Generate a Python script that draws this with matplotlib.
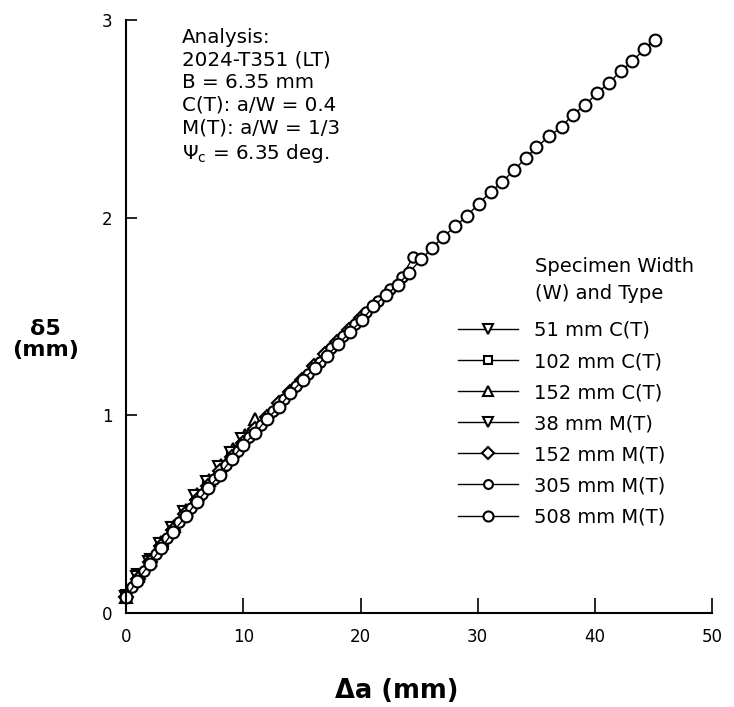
import matplotlib
matplotlib.use('Agg')
import matplotlib.pyplot as plt

# Δa (mm) and δ5 (mm) for each specimen
da_51ct = [0.0, 1.0, 2.1, 3.0, 4.0, 5.0]
d5_51ct = [0.08, 0.19, 0.27, 0.35, 0.43, 0.51]

da_102ct = [0.0, 1.1, 2.0, 3.1, 4.1, 5.0, 6.1, 7.0, 8.1, 9.0]
d5_102ct = [0.09, 0.18, 0.26, 0.35, 0.43, 0.50, 0.58, 0.65, 0.73, 0.80]

da_152ct = [0.0, 1.0, 2.0, 3.0, 4.1, 5.1, 6.0, 7.1, 8.1, 9.1, 10.1, 11.0]
d5_152ct = [0.08, 0.19, 0.27, 0.36, 0.44, 0.52, 0.60, 0.67, 0.75, 0.83, 0.90, 0.98]

da_38mt = [0.0, 0.9, 1.9, 2.9, 3.9, 4.9, 5.9, 6.9, 7.9, 8.9, 9.9]
d5_38mt = [0.08, 0.18, 0.26, 0.35, 0.43, 0.51, 0.59, 0.66, 0.74, 0.81, 0.88]

da_152mt = [0.0, 1.0, 2.0, 3.0, 4.0, 5.0, 6.0, 7.0, 8.0, 9.0, 10.0, 11.0, 12.0,
            13.0, 14.0, 15.0, 16.0, 17.0, 18.0, 19.0, 20.0]
d5_152mt = [0.08, 0.17, 0.26, 0.34, 0.42, 0.50, 0.57, 0.64, 0.72, 0.79, 0.86, 0.93, 0.99,
            1.06, 1.12, 1.18, 1.25, 1.31, 1.37, 1.43, 1.49]

da_305mt = [0.5, 1.5, 2.5, 3.5, 4.5, 5.5, 6.5, 7.5, 8.5, 9.5, 10.5, 11.5, 12.5,
            13.5, 14.5, 15.5, 16.5, 17.5, 18.5, 19.5, 20.5, 21.5, 22.5, 23.5, 24.5]
d5_305mt = [0.13, 0.21, 0.30, 0.38, 0.46, 0.53, 0.60, 0.68, 0.75, 0.82, 0.89, 0.95, 1.02,
            1.08, 1.15, 1.21, 1.27, 1.34, 1.40, 1.46, 1.52, 1.58, 1.64, 1.70, 1.80]

da_508mt = [0.0, 0.9, 2.0, 3.0, 4.0, 5.1, 6.0, 7.0, 8.0, 9.0, 10.0, 11.0, 12.0, 13.0,
            14.0, 15.1, 16.1, 17.1, 18.1, 19.1, 20.1, 21.1, 22.2, 23.2, 24.1, 25.2,
            26.1, 27.0, 28.1, 29.1, 30.1, 31.1, 32.1, 33.1, 34.1, 35.0, 36.1, 37.2,
            38.1, 39.2, 40.2, 41.2, 42.2, 43.2, 44.2, 45.1]
d5_508mt = [0.08, 0.16, 0.25, 0.33, 0.41, 0.49, 0.56, 0.63, 0.70, 0.78, 0.85, 0.91, 0.98,
            1.04, 1.11, 1.18, 1.24, 1.30, 1.36, 1.42, 1.48, 1.55, 1.61, 1.66, 1.72, 1.79,
            1.845, 1.90, 1.955, 2.01, 2.07, 2.13, 2.18, 2.24, 2.30, 2.355, 2.41, 2.46,
            2.52, 2.57, 2.63, 2.68, 2.74, 2.79, 2.85, 2.90]

series = [
    ('51 mm C(T)', da_51ct, d5_51ct, 'v', 8),
    ('102 mm C(T)', da_102ct, d5_102ct, 's', 7),
    ('152 mm C(T)', da_152ct, d5_152ct, '^', 8),
    ('38 mm M(T)', da_38mt, d5_38mt, 'v', 8),
    ('152 mm M(T)', da_152mt, d5_152mt, 'D', 7),
    ('305 mm M(T)', da_305mt, d5_305mt, 'o', 7.5),
    ('508 mm M(T)', da_508mt, d5_508mt, 'o', 8.5),
]

plt.rcParams['font.family'] = ['DejaVu Sans']

fig = plt.figure(figsize=(7.34, 7.07), dpi=100)
ax = fig.add_axes([0.172, 0.133, 0.798, 0.839])

for label, x, y, mk, ms in series:
    ax.plot(x, y, color='black', linewidth=1.0, marker=mk, markersize=ms,
            markerfacecolor='white', markeredgecolor='black', markeredgewidth=1.5,
            label=label, clip_on=False)

ax.set_xlim(0, 50)
ax.set_ylim(0, 3)
ax.set_xticks([0, 10, 20, 30, 40, 50])
ax.set_yticks([0, 1, 2, 3])
ax.spines['top'].set_visible(False)
ax.spines['right'].set_visible(False)
for s in ['left', 'bottom']:
    ax.spines[s].set_linewidth(1.5)
ax.tick_params(axis='x', direction='in', length=11, width=1.2, labelsize=12, pad=11)
ax.tick_params(axis='y', direction='in', length=8, width=1.2, labelsize=12, pad=10)

fig.text(0.541, 0.004, 'Δa (mm)', fontsize=18.5, fontweight='bold', ha='center', va='bottom')
fig.text(0.062, 0.52, 'δ5\n(mm)', fontsize=16, fontweight='bold', ha='center', va='center',
         linespacing=1.1)

ax.text(0.095, 0.986, 'Analysis:\n2024-T351 (LT)\nB = 6.35 mm\nC(T): a/W = 0.4\n'
        'M(T): a/W = 1/3\nΨ$_\\mathregular{c}$ = 6.35 deg.',
        transform=ax.transAxes, fontsize=14.3, va='top', ha='left', linespacing=1.24)

fig.text(0.729, 0.636, 'Specimen Width\n(W) and Type', fontsize=14, va='top', ha='left',
         linespacing=1.5)
leg = ax.legend(loc='upper left', bbox_to_anchor=(0.624, 0.546), bbox_transform=fig.transFigure,
                frameon=False, fontsize=14, handlelength=3.1, handletextpad=0.8,
                labelspacing=0.62, borderpad=0, borderaxespad=0, markerscale=0.85)

plt.savefig('out.png', dpi=100)
